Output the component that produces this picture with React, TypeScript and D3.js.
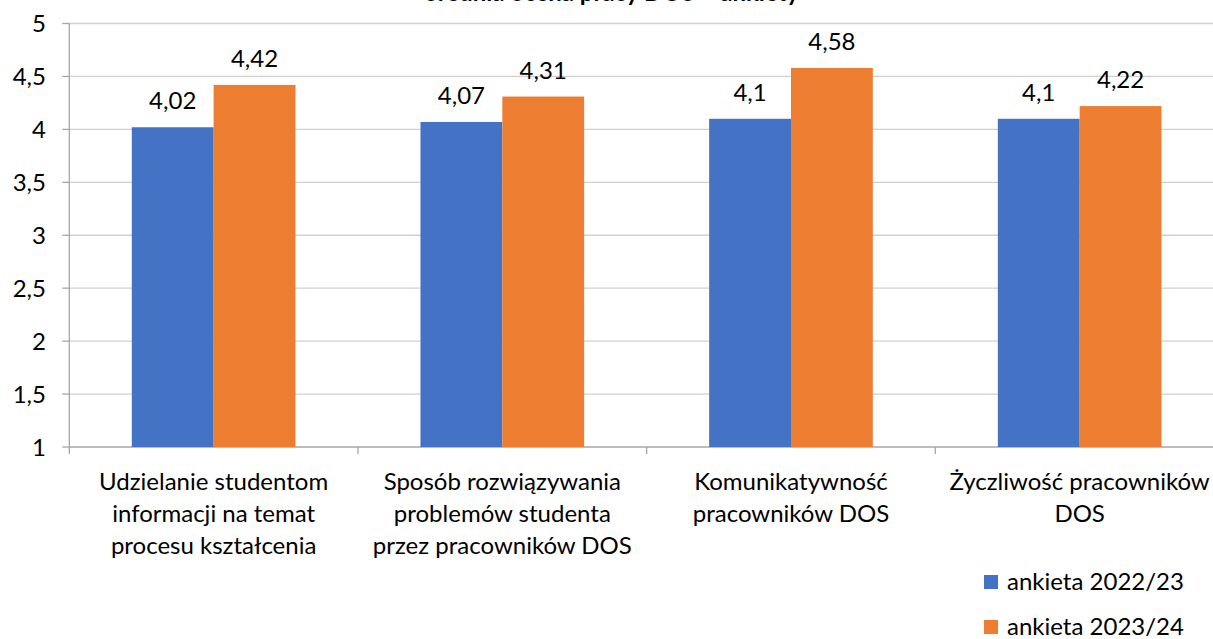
import React from "react";
import * as d3 from "d3";

const categories: string[][] = [
  ["Udzielanie studentom", "informacji na temat", "procesu kształcenia"],
  ["Sposób rozwiązywania", "problemów studenta", "przez pracowników DOS"],
  ["Komunikatywność", "pracowników DOS"],
  ["Życzliwość pracowników", "DOS"],
];
const series2022 = [4.02, 4.07, 4.1, 4.1];
const series2023 = [4.42, 4.31, 4.58, 4.22];
const seriesNames = ["ankieta 2022/23", "ankieta 2023/24"];
const yTicks = [1, 1.5, 2, 2.5, 3, 3.5, 4, 4.5, 5];
const titleText = "Średnia ocena pracy DOS – ankiety";

const W = 1213;
const H = 639;
const FONT = "Lato, 'Open Sans', sans-serif";
const COLORS = ["#4472C4", "#ED7D31"];
const FS = 24;

export default function App() {
  const left = 69.3;
  const right = 1224;
  const top = 23.5;
  const bottom = 447;
  const y = d3.scaleLinear().domain([1, 5]).range([bottom, top]);
  const idx = categories.map((_, i) => String(i));
  const x = d3
    .scaleBand<string>()
    .domain(idx)
    .range([left, right])
    .paddingInner(0.433)
    .paddingOuter(0.433 / 2);
  const inner = d3
    .scaleBand<number>()
    .domain([0, 1])
    .range([0, x.bandwidth()]);
  const step = x.step();
  const data = [series2022, series2023];
  const fmt = (v: number) => String(v).replace(".", ",");

  return (
    <svg
      width={W}
      height={H}
      style={{ position: "absolute", left: 0, top: 0, background: "#fff" }}
      fontFamily={FONT}
    >
      <text x={612} y={1} textAnchor="middle" fontSize={24} fontWeight="bold" fill="#000">
        {titleText}
      </text>
      {yTicks.map((t) => (
        <g key={t}>
          <line x1={left} x2={W} y1={y(t)} y2={y(t)} stroke={t === 1 ? "#a6a6a6" : "#d0d0d0"} strokeWidth={1.3} />
          <line x1={left - 7} x2={left} y1={y(t)} y2={y(t)} stroke="#a6a6a6" strokeWidth={1.3} />
          <text x={46} y={y(t)} dy="0.36em" textAnchor="end" fontSize={FS} fill="#000">
            {fmt(t)}
          </text>
        </g>
      ))}
      <line x1={left} x2={left} y1={top} y2={bottom + 7} stroke="#a6a6a6" strokeWidth={1.3} />
      {idx.map((_, i) => {
        const xb = left + step * (i + 1);
        return xb < W ? (
          <line key={i} x1={xb} x2={xb} y1={bottom} y2={bottom + 7} stroke="#a6a6a6" strokeWidth={1.3} />
        ) : null;
      })}
      {data.map((s, si) =>
        s.map((v, i) => {
          const bx = (x(String(i)) as number) + (inner(si) as number);
          const bw = inner.bandwidth();
          return (
            <g key={`${si}-${i}`}>
              <rect x={bx} y={y(v)} width={bw} height={bottom - y(v)} fill={COLORS[si]} />
              <text x={bx + bw / 2} y={y(v) - 18} textAnchor="middle" fontSize={FS} fill="#000">
                {fmt(v)}
              </text>
            </g>
          );
        })
      )}
      {categories.map((lines, i) => {
        const cx = (x(String(i)) as number) + x.bandwidth() / 2;
        return (
          <text key={i} x={cx} textAnchor="middle" fontSize={FS} fill="#000">
            {lines.map((l, li) => (
              <tspan key={li} x={cx} y={490 + li * 32}>
                {l}
              </tspan>
            ))}
          </text>
        );
      })}
      {seriesNames.map((n, i) => (
        <g key={n}>
          <rect x={984} y={575 + i * 45} width={14} height={14} fill={COLORS[i]} />
          <text x={1007} y={590 + i * 45} fontSize={FS} fill="#000">
            {n}
          </text>
        </g>
      ))}
    </svg>
  );
}
